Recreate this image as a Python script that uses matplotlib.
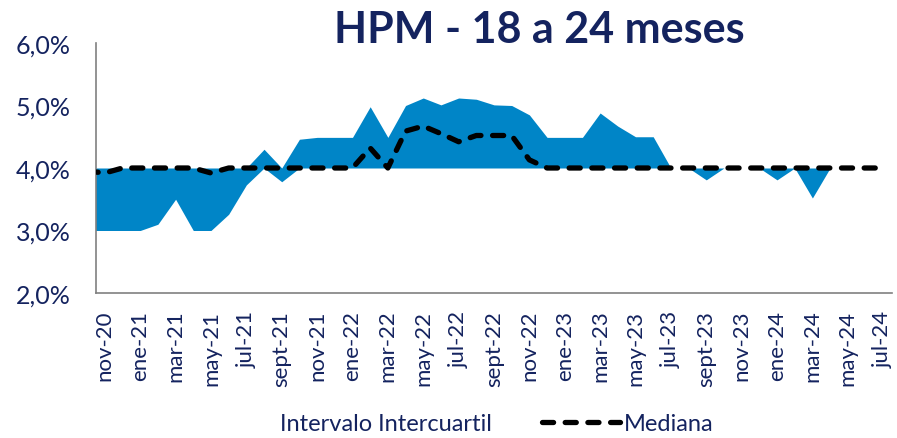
import matplotlib
matplotlib.use("Agg")
import matplotlib.pyplot as plt
from matplotlib.lines import Line2D
from matplotlib.patches import Patch
import numpy as np

# months (oct-20 is only partially visible at the left edge)
months = ["oct-20", "nov-20", "dic-20", "ene-21", "feb-21", "mar-21", "abr-21", "may-21", "jun-21",
          "jul-21", "ago-21", "sept-21", "oct-21", "nov-21", "dic-21", "ene-22", "feb-22",
          "mar-22", "abr-22", "may-22", "jun-22", "jul-22", "ago-22", "sept-22", "oct-22",
          "nov-22", "dic-22", "ene-23", "feb-23", "mar-23", "abr-23", "may-23", "jun-23",
          "jul-23", "ago-23", "sept-23", "oct-23", "nov-23", "dic-23", "ene-24", "feb-24",
          "mar-24", "abr-24", "may-24", "jun-24", "jul-24"]

q_low = [3.00, 3.00, 3.00, 3.00, 3.10, 3.50, 3.00, 3.00, 3.26, 3.73, 4.00, 3.78,
         4.00, 4.00, 4.00, 4.00, 4.00, 4.00, 4.00, 4.00, 4.00, 4.00, 4.00, 4.00,
         4.00, 4.00, 4.00, 4.00, 4.00, 4.00, 4.00, 4.00, 4.00, 4.00, 4.00, 3.81,
         4.00, 4.00, 4.00, 3.81, 4.00, 3.52, 4.00, 4.00, 4.00, 4.00]

q_high = [4.00, 4.00, 4.00, 4.00, 4.00, 4.00, 4.00, 4.00, 4.00, 4.00, 4.30, 4.00,
          4.46, 4.49, 4.49, 4.49, 4.98, 4.49, 5.00, 5.12, 5.01, 5.12, 5.10, 5.01,
          5.00, 4.85, 4.49, 4.49, 4.49, 4.88, 4.67, 4.50, 4.50, 4.00, 4.00, 4.00,
          4.00, 4.00, 4.00, 4.00, 4.00, 4.00, 4.00, 4.00, 4.00, 4.00]

mediana = [3.95, 3.92, 4.00, 4.00, 4.00, 4.00, 4.00, 3.92, 4.00, 4.00, 4.00, 4.00,
           4.00, 4.00, 4.00, 4.00, 4.32, 4.00, 4.59, 4.67, 4.55, 4.42, 4.52, 4.52,
           4.52, 4.13, 4.00, 4.00, 4.00, 4.00, 4.00, 4.00, 4.00, 4.00, 4.00, 4.00,
           4.00, 4.00, 4.00, 4.00, 4.00, 4.00, 4.00, 4.00, 4.00, 4.00]

y_ticks = [2.0, 3.0, 4.0, 5.0, 6.0]
y_ticklabels = ["2,0%", "3,0%", "4,0%", "5,0%", "6,0%"]

title = "HPM - 18 a 24 meses"
navy = "#14235F"
blue = "#0085C7"

plt.rcParams['font.family'] = ['Lato', 'DejaVu Sans']

fig = plt.figure(figsize=(8.97, 4.39), dpi=100)
ax = fig.add_axes([96/897, 1-294/439, (892-96)/897, 250/439])

x = np.arange(len(months)) - 1  # nov-20 at 0
ax.fill_between(x, q_low, q_high, color=blue, linewidth=0, zorder=2)
ax.plot(x, mediana, color="black", linewidth=3.8, linestyle=(0, (2.1, 2.2)),
        dash_capstyle="round", zorder=3)

ax.set_xlim(-0.5, 44.5)
ax.set_ylim(2.0, 6.0)
ax.set_yticks(y_ticks)
ax.set_yticklabels(y_ticklabels, fontsize=18, color=navy)

tick_pos = x[1::2]
ax.set_xticks(tick_pos)
ax.set_xticklabels(months[1::2], rotation=90, fontsize=16, color=navy)
ax.tick_params(axis='both', length=0)
ax.tick_params(axis='x', pad=12)
ax.tick_params(axis='y', pad=18)

for s in ["top", "right"]:
    ax.spines[s].set_visible(False)
for s in ["left", "bottom"]:
    ax.spines[s].set_color("#808080")
    ax.spines[s].set_linewidth(1.2)

fig.text(539/897, 1-30/439, title, ha="center", va="center", fontsize=31,
         fontweight="bold", color=navy)

handles = [Patch(facecolor="none", edgecolor="none"),
           Line2D([], [], color="black", linewidth=3.8, linestyle=(0, (2.1, 2.2)),
                  dash_capstyle="round")]
leg = fig.legend(handles, ["Intervalo Intercuartil", "Mediana"], ncol=2,
                 loc="center", bbox_to_anchor=(456/897, 1-425/439), frameon=False,
                 fontsize=17, handlelength=3.3, columnspacing=2.1, handletextpad=0.15)
for t in leg.get_texts():
    t.set_color(navy)

fig.savefig("out.png", dpi=100)
